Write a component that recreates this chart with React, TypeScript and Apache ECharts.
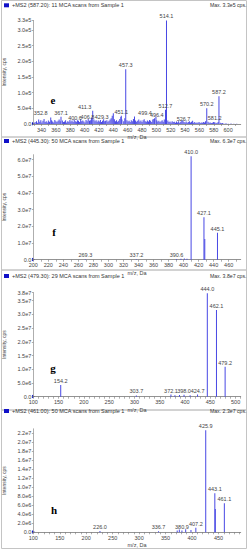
import React, { useEffect, useRef } from "react";
import * as echarts from "echarts";

// ---------- DATA ----------
// Panel e : +MS2 (587.20)
const eTicks = [340, 360, 380, 400, 420, 440, 460, 480, 500, 520, 540, 560, 580, 600];
const eMinorTicks = [330, 340, 350, 360, 370, 380, 390, 400, 410, 420, 430, 440, 450, 460, 470, 480, 490, 500, 510, 520, 530, 540, 550, 560, 570, 580, 590, 600, 610];
const ePeakMz = [352.8, 367.1, 400.6, 406.8, 411.3, 429.3, 451.1, 457.3, 496.4, 499.4, 512.7, 514.1, 526.7, 570.2, 581.2, 587.2];
const ePeakInt = [21000, 23000, 5000, 10500, 42000, 10500, 26000, 174000, 16000, 23000, 45000, 330000, 4000, 50000, 5500, 88000];
const eNoise: [number, number][] = [
  [331, 6000], [333, 9000], [334.5, 4000], [336, 14000], [337.5, 7000], [339, 12000], [340.5, 5000], [342, 10000],
  [343.5, 16000], [345, 6000], [346.5, 9000], [348, 5000], [349.5, 11000], [351, 7000], [354, 12000], [355.5, 8000],
  [357, 5000], [358.5, 13000], [360, 9000], [361.5, 6000], [363, 10000], [364.5, 14000], [366, 9000], [369, 11000],
  [370.5, 6000], [372, 8000], [373.5, 12000], [375, 5000], [376.5, 9000], [378, 7000], [379.5, 13000], [381, 8000],
  [382.5, 11000], [384, 6000], [385.5, 14000], [387, 9000], [388.5, 7000], [390, 12000], [391.5, 10000], [393, 6000],
  [394.5, 15000], [396, 9000], [397.5, 11000], [399, 8000], [402, 13000], [403.5, 9000], [405, 16000], [408, 12000],
  [409.5, 20000], [413, 14000], [414.5, 9000], [416, 12000], [417.5, 7000], [419, 11000], [420.5, 8000], [422, 13000],
  [423.5, 6000], [425, 10000], [426.5, 15000], [428, 9000], [431, 12000], [432.5, 7000], [434, 10000], [435.5, 14000],
  [437, 18000], [438.5, 26000], [440, 34000], [441.5, 15000], [443, 9000], [444.5, 12000], [446, 7000], [447.5, 10000],
  [449, 16000], [450.5, 22000], [452, 14000], [454.5, 9000], [456, 18000], [459, 12000], [460.5, 8000], [462, 10000],
  [463.5, 6000], [465, 12000], [466.5, 9000], [468, 16000], [469.5, 24000], [471, 11000], [472.5, 7000], [474, 10000],
  [475.5, 14000], [477, 8000], [478.5, 11000], [480, 6000], [481.5, 12000], [483, 15000], [484.5, 9000], [486, 7000],
  [487.5, 11000], [489, 8000], [490.5, 13000], [492, 10000], [493.5, 6000], [495, 14000], [497.5, 18000], [500.5, 12000],
  [502, 8000], [503.5, 10000], [505, 6000], [506.5, 9000], [508, 12000], [509.5, 7000], [511, 14000], [516, 11000],
  [517.5, 6000], [519, 8000], [520.5, 5000], [522, 9000], [523.5, 6000], [525, 7000], [528, 8000], [529.5, 5000],
  [531, 9000], [532.5, 4000], [534, 7000], [535.5, 10000], [537, 12000], [538.5, 6000], [540, 5000], [541.5, 8000],
  [543, 4000], [544.5, 6000], [546, 9000], [547.5, 5000], [549, 7000], [550.5, 10000], [552, 4000], [553.5, 6000],
  [555, 3000], [556.5, 5000], [558, 4000], [559.5, 6000], [561, 3000], [562.5, 5000], [564, 4000], [565.5, 6000],
  [567, 5000], [568.5, 9000], [572, 7000], [573.5, 4000], [575, 5000], [576.5, 3000], [578, 4000], [579.5, 6000],
  [583, 4000], [584.5, 3000], [586, 6000], [589, 4000], [590.5, 2000], [592, 3000], [594, 1500], [597, 2000],
  [600, 1000], [604, 1500], [608, 800], [612, 1000],
];

// Panel f : +MS2 (445.30)
const fTicks = [200, 220, 240, 260, 280, 300, 320, 340, 360, 380, 400, 420, 440, 460];
const fMinorTicks = [200, 210, 220, 230, 240, 250, 260, 270, 280, 290, 300, 310, 320, 330, 340, 350, 360, 370, 380, 390, 400, 410, 420, 430, 440, 450, 460, 470];
const fPeakMz = [269.3, 337.2, 390.6, 410.0, 427.1, 445.1];
const fPeakInt = [300000, 300000, 400000, 62000000, 25400000, 16200000];
const fNoise: [number, number][] = [[396.5, 500000], [401, 700000], [404.5, 500000], [428.2, 12400000]];

// Panel g : +MS2 (479.30)
const gTicks = [100, 150, 200, 250, 300, 350, 400, 450, 500];
const gMinorTicks = [100, 110, 120, 130, 140, 150, 160, 170, 180, 190, 200, 210, 220, 230, 240, 250, 260, 270, 280, 290, 300, 310, 320, 330, 340, 350, 360, 370, 380, 390, 400, 410, 420, 430, 440, 450, 460, 470, 480, 490, 500, 510];
const gPeakMz = [154.2, 303.7, 372.1, 398.0, 424.7, 444.0, 462.1, 479.2];
const gPeakInt = [4270000, 450000, 800000, 700000, 800000, 37700000, 31600000, 10900000];
const gNoise: [number, number][] = [[380, 500000], [389, 600000], [410, 500000]];

// Panel h : +MS2 (461.00)
const hTicks = [100, 150, 200, 250, 300, 350, 400, 450];
const hMinorTicks = [100, 110, 120, 130, 140, 150, 160, 170, 180, 190, 200, 210, 220, 230, 240, 250, 260, 270, 280, 290, 300, 310, 320, 330, 340, 350, 360, 370, 380, 390, 400, 410, 420, 430, 440, 450, 460, 470, 480, 490];
const hPeakMz = [226.0, 336.7, 380.9, 407.2, 425.9, 443.1, 461.1];
const hPeakInt = [300000, 260000, 400000, 1000000, 22700000, 8670000, 6440000];
const hNoise: [number, number][] = [[372, 400000], [376, 600000], [388, 700000], [398, 500000], [444, 5200000]];

const titles = [
  "+MS2 (587.20): 11 MCA scans from Sample 1",
  "+MS2 (445.30): 50 MCA scans from Sample 1",
  "+MS2 (479.30): 29 MCA scans from Sample 1",
  "+MS2 (461.00): 50 MCA scans from Sample 1",
];
const maxTexts = ["Max. 3.3e5 cps.", "Max. 6.3e7 cps.", "Max. 3.8e7 cps.", "Max. 2.3e7 cps."];
const letters = ["e", "f", "g", "h"];

// ---------- LAYOUT / STYLE ----------
const FONT = "'Liberation Sans', Arial, sans-serif";
const BLUE = "#4848e4";

const labelOffsets: Record<string, [number, number]> = {
  "e352.8": [-10, 0],
  "e400.6": [-10, 0],
  "e406.8": [-2, 0],
  "e411.3": [-8, 0],
  "e429.3": [-4, 0],
  "e499.4": [-11, 0],
  "e496.4": [3, 0],
  "e526.7": [8, 0],
};

const panels = [
  { key: "e", top: 20.4, height: 103.6, xMin: 328.5, xMax: 617.5, ticks: eTicks, minor: eMinorTicks, yMax: 330000, yInt: 50000, showMax: true, mz: ePeakMz, it: ePeakInt, noise: eNoise, box: [0.5, 137], titleY: 5.3, letterY: 99.5, letterX: 53 },
  { key: "f", top: 154.7, height: 105, xMin: 200, xMax: 476, ticks: fTicks, minor: fMinorTicks, yMax: 63000000, yInt: 10000000, showMax: false, mz: fPeakMz, it: fPeakInt, noise: fNoise, box: [137, 270], titleY: 141, letterY: 231.7, letterX: 54 },
  { key: "g", top: 292.5, height: 104.2, xMin: 100, xMax: 510, ticks: gTicks, minor: gMinorTicks, yMax: 38000000, yInt: 5000000, showMax: true, mz: gPeakMz, it: gPeakInt, noise: gNoise, box: [270, 410], titleY: 276, letterY: 367.7, letterX: 53 },
  { key: "h", top: 428.8, height: 103.5, xMin: 100, xMax: 492, ticks: hTicks, minor: hMinorTicks, yMax: 23000000, yInt: 2000000, showMax: false, mz: hPeakMz, it: hPeakInt, noise: hNoise, box: [410, 548.5], titleY: 411, letterY: 510, letterX: 54 },
];

const sci = (v: number) => (v === 0 ? "0.0" : v.toExponential(1).replace("+", ""));

function buildOption() {
  const grid: any[] = [];
  const xAxis: any[] = [];
  const yAxis: any[] = [];
  const series: any[] = [];
  const graphic: any[] = [];

  panels.forEach((p, i) => {
    grid.push({ left: 33.3, top: p.top, width: 207.4, height: p.height, containLabel: false, outerBoundsMode: "none" });
    xAxis.push({
      type: "value",
      gridIndex: i,
      min: p.xMin,
      max: p.xMax,
      name: "m/z, Da",
      nameLocation: "middle",
      nameGap: 10,
      nameTextStyle: { fontSize: 5.5, color: "#444", fontFamily: FONT },
      axisLine: { show: true, onZero: false, lineStyle: { color: "#777", width: 0.8 } },
      axisTick: { show: true, length: 2, customValues: p.minor, lineStyle: { color: "#777", width: 0.6 } },
      axisLabel: { fontSize: 5.5, color: "#444", fontFamily: FONT, margin: 2.5, customValues: p.ticks, formatter: (v: number) => String(v) },
      splitLine: { show: false },
    });
    yAxis.push({
      type: "value",
      gridIndex: i,
      min: 0,
      max: p.yMax,
      interval: p.yInt,
      name: "Intensity, cps",
      nameLocation: "middle",
      nameGap: 26,
      nameTextStyle: { fontSize: 5, color: "#444", fontFamily: FONT },
      axisLine: { show: true, lineStyle: { color: "#999", width: 0.8 } },
      axisTick: { show: true, length: 1.5, lineStyle: { color: "#777", width: 0.6 } },
      axisLabel: { fontSize: 5.5, color: "#444", fontFamily: FONT, margin: 2, showMaxLabel: p.showMax, showMinLabel: true, formatter: sci },
      splitLine: { show: false },
    });
    const data: any[] = p.noise.map(([x, y]) => [x, y]);
    p.mz.forEach((m, j) => {
      const k = p.key + m.toFixed(1);
      data.push({ value: [m, p.it[j]], label: { show: true, offset: labelOffsets[k] || [0, 0] } });
    });
    series.push({
      type: "bar",
      xAxisIndex: i,
      yAxisIndex: i,
      barWidth: 0.9,
      data,
      itemStyle: { color: BLUE },
      label: {
        show: false,
        position: "top",
        distance: 1,
        fontSize: 5.5,
        color: "#444",
        fontFamily: FONT,
        formatter: (q: any) => Number(q.value[0]).toFixed(1),
      },
      silent: true,
    });

    // panel frame and header
    graphic.push({ type: "rect", shape: { x: 1.5, y: p.box[0], width: 245, height: p.box[1] - p.box[0] }, style: { fill: "none", stroke: "#c4c4c4", lineWidth: 1 } });
    graphic.push({ type: "rect", shape: { x: 4, y: p.titleY - 2, width: 5, height: 4 }, style: { fill: "#1010c8" } });
    graphic.push({ type: "text", x: 12, y: p.titleY, style: { text: titles[i], fontSize: 5.5, fontFamily: FONT, fill: "#333", align: "left", verticalAlign: "middle" } });
    graphic.push({ type: "text", x: 246.5, y: p.titleY, style: { text: maxTexts[i], fontSize: 5.2, fontFamily: FONT, fill: "#333", align: "right", verticalAlign: "middle" } });
    graphic.push({ type: "text", x: p.letterX, y: p.letterY, style: { text: letters[i], fontSize: 11, fontWeight: "bold", fontFamily: "'Liberation Serif', 'Times New Roman', serif", fill: "#000", align: "center", verticalAlign: "middle" } });
    const y0 = p.top + p.height;
    graphic.push({ type: "polygon", shape: { points: [[32, y0 - 2], [32, y0 + 1.5], [35, y0 - 0.2]] }, style: { fill: "#1010c8" } });
  });

  return { animation: false, backgroundColor: "#fff", grid, xAxis, yAxis, series, graphic };
}

export default function App() {
  const ref = useRef<HTMLDivElement>(null);
  useEffect(() => {
    const chart = echarts.init(ref.current!, null, { renderer: "svg", width: 248, height: 550 });
    chart.setOption(buildOption());
    return () => chart.dispose();
  }, []);
  return <div ref={ref} style={{ position: "absolute", left: 0, top: 0, width: 248, height: 550 }} />;
}
